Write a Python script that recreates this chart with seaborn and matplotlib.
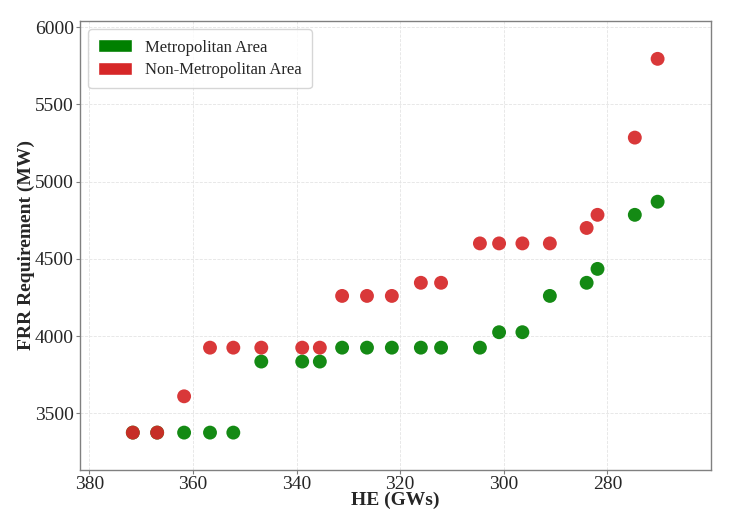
import matplotlib
matplotlib.use("Agg")
import matplotlib.pyplot as plt
from matplotlib.patches import Patch
import seaborn as sns
import pandas as pd

he_gws = [371.6, 366.9, 361.7, 356.7, 352.2, 346.8, 338.9, 335.5, 331.2, 326.4, 321.6,
          316.0, 312.1, 304.6, 300.9, 296.4, 291.1, 284.0, 281.9, 274.7, 270.3]
metro_frr = [3375, 3375, 3375, 3375, 3375, 3835, 3835, 3835, 3925, 3925, 3925,
             3925, 3925, 3925, 4025, 4025, 4260, 4345, 4435, 4785, 4870]
nonmetro_frr = [3375, 3375, 3610, 3925, 3925, 3925, 3925, 3925, 4260, 4260, 4260,
                4345, 4345, 4600, 4600, 4600, 4600, 4700, 4785, 5285, 5795]
labels = ["Metropolitan Area", "Non-Metropolitan Area"]
colors = ["green", "#d62728"]

df = pd.DataFrame({
    "HE": he_gws * 2,
    "FRR": metro_frr + nonmetro_frr,
    "Area": [labels[0]] * len(he_gws) + [labels[1]] * len(he_gws),
})

sns.set_style("whitegrid")
plt.rcParams["font.family"] = ["Liberation Serif", "DejaVu Serif"]

fig = plt.figure(figsize=(7.31, 5.25), dpi=100)
ax = fig.add_axes([0.1094, 0.1048, 0.8632, 0.8552])

sns.scatterplot(
    data=df, x="HE", y="FRR", hue="Area",
    palette=dict(zip(labels, colors)),
    s=100, alpha=0.92, linewidth=0, ax=ax, legend=False,
)

ax.set_xlim(381.8, 260)
ax.set_ylim(3133, 6040)
ax.set_xticks([380, 360, 340, 320, 300, 280])
ax.set_yticks([3500, 4000, 4500, 5000, 5500, 6000])
ax.tick_params(axis="both", labelsize=14, length=3, pad=1.5, color="gray",
               left=True, bottom=True)
ax.set_xlabel("HE (GWs)", fontsize=14, fontweight="bold", labelpad=-1)
ax.set_ylabel("FRR Requirement (MW)", fontsize=14, fontweight="bold", labelpad=0)
ax.grid(True, linestyle="--", color="#e4e4e4", linewidth=0.6)
for sp in ax.spines.values():
    sp.set_color("gray")
    sp.set_linewidth(1.0)

handles = [Patch(facecolor=c, label=l) for c, l in zip(colors, labels)]
ax.legend(handles=handles, loc="upper left", fontsize=12, frameon=True,
          handlelength=2.0, handleheight=0.8, labelspacing=0.4, borderpad=0.6)

fig.savefig("out.png", dpi=100)
